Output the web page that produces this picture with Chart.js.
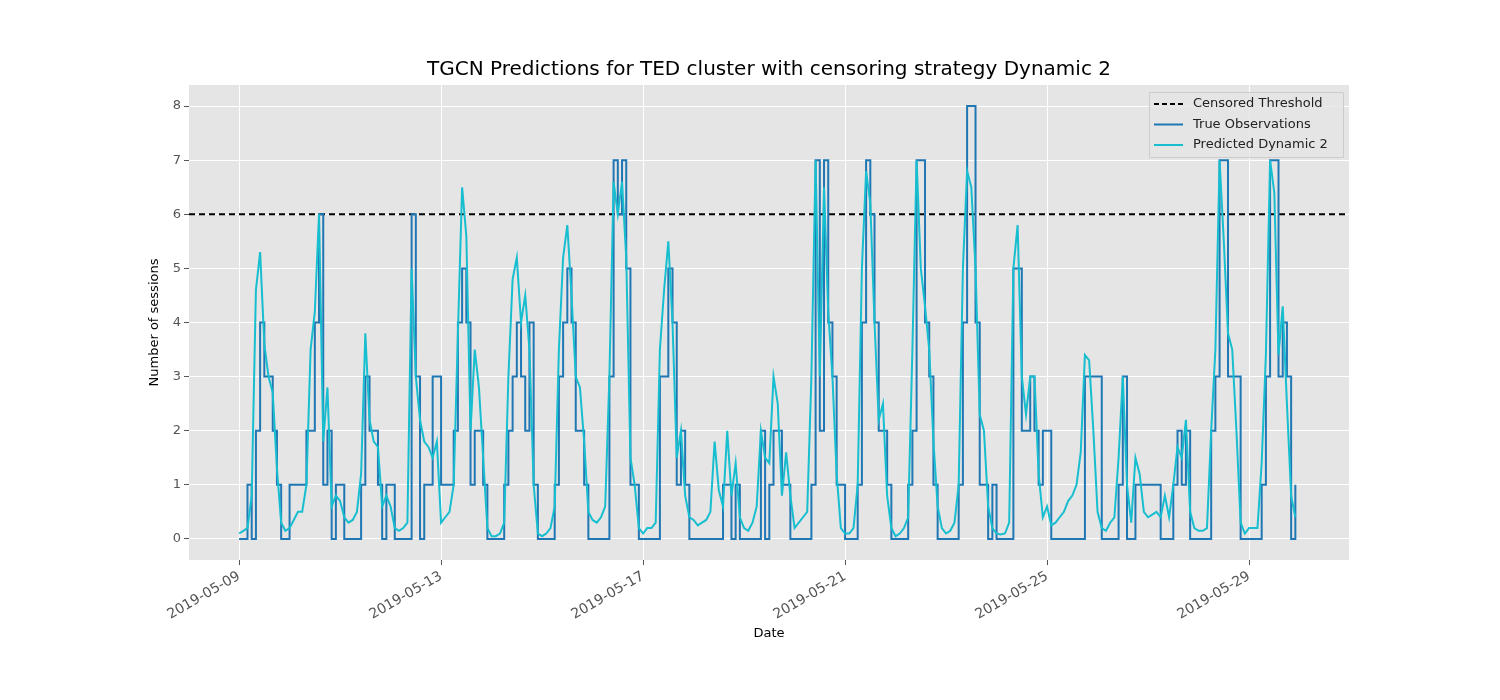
<!DOCTYPE html>
<html>
<head>
<meta charset="utf-8">
<script src="https://cdn.jsdelivr.net/npm/chart.js@4.4.1/dist/chart.umd.min.js"></script>
<style>
  body { margin: 0; background: #fff; }
  #wrap { width: 1500px; height: 700px; }
</style>
</head>
<body>
<div id="wrap"><canvas id="tgcnChart" width="1500" height="700"></canvas></div>
<script>
// Hours since 2019-05-09 00:00, one sample every 2 hours
var stepHours = 2;
var threshold = 6;
var tickHours = [0, 96, 192, 288, 384, 480];
var tickLabels = ['2019-05-09', '2019-05-13', '2019-05-17', '2019-05-21', '2019-05-25', '2019-05-29'];

var trueObs = [
  0,0,1,0,2,4,3,3,2,1,0,0,
  1,1,1,1,2,2,4,6,1,2,0,1,
  1,0,0,0,0,1,3,2,2,1,0,1,
  1,0,0,0,0,6,3,0,1,1,3,3,
  1,1,1,2,4,5,4,1,2,2,1,0,
  0,0,0,1,2,3,4,3,2,4,1,0,
  0,0,0,1,3,4,5,4,2,2,1,0,
  0,0,0,0,3,7,6,7,5,1,1,0,
  0,0,0,0,3,3,5,4,1,2,1,0,
  0,0,0,0,0,0,0,1,1,0,1,0,
  0,0,0,0,2,0,1,2,2,1,1,0,
  0,0,0,0,1,7,2,7,4,3,1,1,
  0,0,0,1,4,7,6,4,2,2,1,0,
  0,0,0,1,2,7,7,4,3,1,0,0,
  0,0,0,1,4,8,8,4,1,1,0,1,
  0,0,0,0,5,5,2,2,3,2,1,2,
  2,0,0,0,0,0,0,0,0,3,3,3,
  3,0,0,0,0,1,3,0,0,1,1,1,
  1,1,1,0,0,0,1,2,1,2,0,0,
  0,0,0,2,3,7,7,3,3,3,0,0,
  0,0,0,1,3,7,7,3,4,3,0,1
];

var predicted = [
  0.1,0.15,0.2,0.8,4.6,5.3,3.6,3.0,2.7,1.3,0.3,0.15,
  0.2,0.35,0.5,0.5,1.0,3.5,4.2,6.0,1.8,2.8,0.6,0.8,
  0.7,0.4,0.3,0.35,0.5,1.2,3.8,2.2,1.8,1.7,0.6,0.8,
  0.6,0.2,0.15,0.2,0.3,5.0,3.0,2.2,1.8,1.7,1.5,1.8,
  0.3,0.4,0.5,1.0,3.8,6.5,5.6,2.0,3.5,2.8,1.5,0.2,
  0.05,0.05,0.1,0.3,3.0,4.8,5.2,4.0,4.5,3.5,1.0,0.1,
  0.05,0.1,0.2,0.6,3.5,5.2,5.8,4.5,3.0,2.8,1.8,0.5,
  0.35,0.3,0.4,0.6,3.0,6.6,6.0,6.6,5.2,1.5,1.0,0.2,
  0.1,0.2,0.2,0.3,3.5,4.6,5.5,4.0,1.5,2.0,0.8,0.4,
  0.35,0.25,0.3,0.35,0.5,1.8,0.9,0.6,2.0,0.8,1.4,0.4,
  0.2,0.15,0.3,0.6,2.0,1.5,1.4,3.0,2.5,0.8,1.6,0.8,
  0.2,0.3,0.4,0.5,3.0,7.0,3.0,6.5,4.2,3.0,1.2,0.2,
  0.1,0.1,0.2,1.0,5.0,6.8,6.2,4.0,2.2,2.5,0.8,0.2,
  0.05,0.1,0.2,0.4,3.5,7.0,5.0,4.3,3.5,1.8,0.6,0.2,
  0.1,0.15,0.3,1.0,5.0,6.8,6.5,5.0,2.3,2.0,0.6,0.2,
  0.1,0.08,0.1,0.3,5.0,5.8,3.0,2.3,3.0,3.0,1.2,0.4,
  0.6,0.25,0.3,0.4,0.5,0.7,0.8,1.0,1.6,3.4,3.3,2.0,
  0.5,0.2,0.15,0.3,0.4,1.5,3.0,1.0,0.3,1.5,1.2,0.5,
  0.4,0.45,0.5,0.4,0.8,0.4,1.0,1.7,1.5,2.2,0.5,0.2,
  0.15,0.15,0.2,2.0,3.5,7.0,5.5,3.8,3.5,2.0,0.3,0.1,
  0.2,0.2,0.2,1.4,3.4,7.0,6.4,3.4,4.3,2.5,0.8,0.4
];

var xMin = -23.8, xMax = 527.5;
var fontFamily = 'DejaVu Sans';

function toPoints(arr) {
  return arr.map(function (v, i) { return { x: i * stepHours, y: v }; });
}

// grey panel, title, axis titles and legend drawn like matplotlib's ggplot style
var decor = {
  id: 'decor',
  beforeDraw: function (chart) {
    var a = chart.chartArea, ctx = chart.ctx;
    ctx.save();
    ctx.fillStyle = '#e5e5e5';
    ctx.fillRect(a.left, a.top, a.right - a.left, a.bottom - a.top);
    ctx.restore();
  },
  afterDraw: function (chart) {
    var a = chart.chartArea, ctx = chart.ctx;
    ctx.save();
    ctx.fillStyle = '#000';
    ctx.textAlign = 'center';
    ctx.textBaseline = 'middle';
    ctx.font = '20px ' + fontFamily;
    ctx.fillText('TGCN Predictions for TED cluster with censoring strategy Dynamic 2', (a.left + a.right) / 2, 70);
    ctx.font = '13px ' + fontFamily;
    ctx.fillText('Date', (a.left + a.right) / 2, 634);
    ctx.translate(155, (a.top + a.bottom) / 2);
    ctx.rotate(-Math.PI / 2);
    ctx.fillText('Number of sessions', 0, 0);
    ctx.restore();

    // legend box
    var lx = 1149, ly = 92, lw = 194, lh = 65;
    ctx.save();
    ctx.fillStyle = 'rgba(229,229,229,0.8)';
    ctx.strokeStyle = '#cccccc';
    ctx.lineWidth = 1;
    ctx.beginPath();
    ctx.rect(lx + 0.5, ly + 0.5, lw, lh);
    ctx.fill();
    ctx.stroke();
    var items = [
      { label: 'Censored Threshold', color: '#000', dash: [5, 3] },
      { label: 'True Observations', color: '#1f77b4', dash: [] },
      { label: 'Predicted Dynamic 2', color: '#17becf', dash: [] }
    ];
    ctx.font = '13px ' + fontFamily;
    ctx.textAlign = 'left';
    ctx.textBaseline = 'middle';
    items.forEach(function (it, i) {
      var y = ly + 12 + i * 20.5;
      ctx.strokeStyle = it.color;
      ctx.lineWidth = 2;
      ctx.setLineDash(it.dash);
      ctx.beginPath();
      ctx.moveTo(lx + 5, y);
      ctx.lineTo(lx + 34, y);
      ctx.stroke();
      ctx.setLineDash([]);
      ctx.fillStyle = '#222';
      ctx.fillText(it.label, lx + 44, y);
    });
    ctx.restore();
  }
};

var ctx = document.getElementById('tgcnChart').getContext('2d');
var chart = new Chart(ctx, {
  type: 'line',
  data: {
    datasets: [{
      label: 'Censored Threshold',
      data: [{ x: xMin, y: threshold }, { x: xMax, y: threshold }],
      borderColor: '#000',
      borderWidth: 2,
      borderDash: [6, 4],
      pointRadius: 0,
      order: 2
    }, {
      label: 'True Observations',
      data: toPoints(trueObs),
      borderColor: '#1f77b4',
      borderWidth: 2,
      stepped: 'before',
      pointRadius: 0,
      order: 1
    }, {
      label: 'Predicted Dynamic 2',
      data: toPoints(predicted),
      borderColor: '#17becf',
      borderWidth: 2,
      tension: 0,
      pointRadius: 0,
      order: 0
    }]
  },
  options: {
    responsive: false,
    animation: false,
    layout: { padding: { left: 0, right: 151, top: 85, bottom: 0 } },
    plugins: { legend: { display: false }, title: { display: false }, tooltip: { enabled: false } },
    scales: {
      x: {
        type: 'linear',
        min: xMin,
        max: xMax,
        afterBuildTicks: function (scale) {
          scale.ticks = tickHours.map(function (v) { return { value: v }; });
        },
        afterFit: function (scale) { scale.height = 140; },
        ticks: {
          autoSkip: false,
          minRotation: 30,
          maxRotation: 30,
          color: '#555',
          font: { family: fontFamily, size: 14 },
          callback: function (v) {
            var i = tickHours.indexOf(v);
            return i >= 0 ? tickLabels[i] : '';
          }
        },
        grid: { color: '#ffffff', lineWidth: 1, drawTicks: true, tickColor: '#555', tickLength: 5 },
        border: { display: false }
      },
      y: {
        min: -0.39,
        max: 8.39,
        afterBuildTicks: function (scale) {
          var t = [];
          for (var i = 0; i <= 8; i++) t.push({ value: i });
          scale.ticks = t;
        },
        afterFit: function (scale) { scale.width = 189; },
        ticks: { color: '#555', font: { family: fontFamily, size: 13 } },
        grid: { color: '#ffffff', lineWidth: 1, tickColor: '#555', tickLength: 5 },
        border: { display: false }
      }
    }
  },
  plugins: [decor]
});
</script>
</body>
</html>
